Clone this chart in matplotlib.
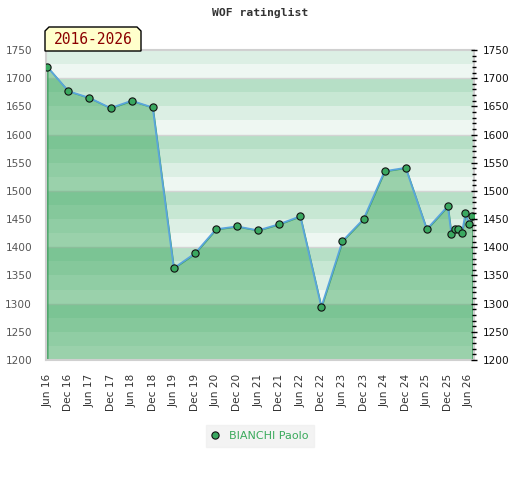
import matplotlib
matplotlib.use("Agg")
import matplotlib.pyplot as plt
from matplotlib.patches import Polygon
import numpy as np

# ---- data ----
tick_labels = ["Jun 16", "Dec 16", "Jun 17", "Dec 17", "Jun 18", "Dec 18", "Jun 19",
               "Dec 19", "Jun 20", "Dec 20", "Jun 21", "Dec 21", "Jun 22", "Dec 22",
               "Jun 23", "Dec 23", "Jun 24", "Dec 24", "Jun 25", "Dec 25", "Jun 26"]
# months since Jun 2016
months = [0, 6, 12, 18, 24, 30, 36, 42, 48, 54, 60, 66, 72, 78, 84, 90, 96, 102,
          108, 114, 115, 116, 117, 118, 119, 120, 121]
ratings = [1720, 1677, 1665, 1647, 1660, 1648, 1363, 1389, 1432, 1437, 1430, 1441,
           1455, 1294, 1411, 1450, 1535, 1541, 1432, 1473, 1423, 1432, 1432, 1425,
           1460, 1441, 1455]
player = "BIANCHI Paolo"
title = "WOF ratinglist"
period = "2016-2026"

W, H = 520, 480
fig = plt.figure(figsize=(W / 100, H / 100), dpi=100)
ax = fig.add_axes([46 / W, 1 - 360 / H, (473.5 - 46) / W, 310 / H])

ymin, ymax = 1200, 1750
ax.set_ylim(ymin, ymax)
ax.set_xlim(-0.37, 121.3)

# background bands (25-unit stripes, repeating per 100)
band_cols = ["#eef7f2", "#dcefe4", "#c7e7d3", "#b6dfc6"]
for lo in range(ymin, ymax, 25):
    ax.axhspan(lo, lo + 25, color=band_cols[(lo // 25) % 4], lw=0, zorder=0)
for g in range(1300, ymax, 100):
    ax.axhline(g, color="#d4d4d4", lw=1.0, zorder=0.5)

# area fill
ax.fill_between(months, ratings, ymin, facecolor=(55 / 255, 165 / 255, 89 / 255, 0.46),
                edgecolor="#3f9f5f", lw=1.0, zorder=1)
ax.plot(months, ratings, color="#5aa5dc", lw=1.3, zorder=2)
ax.plot(months, ratings, ls="none", marker="o", ms=5.2, mfc="#3aa860",
        mec="#111111", mew=0.8, zorder=3, label=player)

ax.set_xticks(list(range(0, 121, 6)))
ax.set_xticklabels(tick_labels, rotation=90, fontsize=7.6, color="#333333")
ax.tick_params(axis="x", length=0, pad=10)
ax.set_yticks(list(range(ymin, ymax + 1, 50)))
ax.tick_params(axis="y", length=0, labelsize=7.6, labelcolor="#555555", pad=10)

for s in ["left", "top", "bottom", "right"]:
    ax.spines[s].set_color("#d0d0d0")
    ax.spines[s].set_linewidth(1.5)

ax2 = ax.twinx()
ax2.set_ylim(ymin, ymax)
ax2.set_yticks(list(range(ymin, ymax + 1, 50)))
ax2.set_yticks(list(range(ymin, ymax + 1, 10)), minor=True)
ax2.tick_params(axis="y", which="major", direction="inout", length=5, width=1,
                color="black", labelsize=7.6, labelcolor="#111111", pad=4)
ax2.tick_params(axis="y", which="minor", direction="inout", length=3, width=1,
                color="black")
for s in ax2.spines.values():
    s.set_visible(False)

# title
fig.text(260 / W, 1 - 13 / H, title, ha="center", va="center",
         family="DejaVu Sans Mono", fontweight="bold", fontsize=8.2, color="#333333")

# period label box with clipped top corners
bx0, bx1, by0, by1, c = 45, 141, 51, 27, 4
pts = [(bx0, by0), (bx0, by1 + c), (bx0 + c, by1), (bx1 - c, by1), (bx1, by1 + c), (bx1, by0)]
poly = Polygon([(x / W, 1 - y / H) for x, y in pts], closed=True, transform=fig.transFigure,
               facecolor="#ffffcc", edgecolor="black", lw=1.0, zorder=10)
fig.add_artist(poly)
fig.text(93 / W, 1 - 40 / H, period, ha="center", va="center", family="DejaVu Sans Mono",
         fontsize=10.5, color="#8b0000", zorder=11)

leg = fig.legend(loc="center", bbox_to_anchor=(260 / W, 1 - 436 / H), fontsize=8,
                 frameon=True, fancybox=False, handlelength=0.6, handletextpad=0.9,
                 borderpad=0.5)
leg.get_frame().set_facecolor("#f0f0f0")
leg.get_frame().set_edgecolor("#f0f0f0")
for t in leg.get_texts():
    t.set_color("#3aaa5c")

fig.savefig("out.png", dpi=100)
